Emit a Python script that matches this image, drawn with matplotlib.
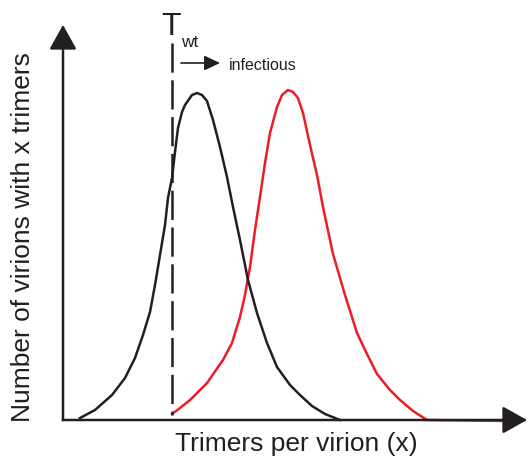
import matplotlib
matplotlib.use("Agg")
import matplotlib.pyplot as plt
from matplotlib.patches import FancyArrowPatch

plt.rcParams["font.family"] = ["Liberation Sans", "DejaVu Sans"]

# curve read-offs (x: trimers, arbitrary units; y: number of virions)
BLACK_X = [80, 95, 112, 125, 135, 143, 150, 155, 160, 165, 168, 172, 175, 178,
           182, 185, 192, 197, 202, 207, 213, 220, 227, 233, 240, 248, 257, 267,
           277, 290, 300, 312, 325, 340]
BLACK_Y = [2, 10, 25, 42, 62, 85, 108, 135, 165, 195, 222, 242, 268, 292,
           308, 315, 325, 327, 325, 319, 300, 273, 243, 213, 180, 140, 107, 77,
           53, 35, 25, 14, 6, 0]

RED_X = [172, 180, 190, 207, 223, 232, 240, 245, 250, 255, 260, 265, 270, 277,
         282, 288, 293, 298, 303, 310, 317, 323, 333, 345, 357, 367, 377, 390,
         400, 413, 427, 510]
RED_Y = [6, 12, 20, 37, 60, 77, 103, 125, 153, 190, 223, 257, 287, 313,
         325, 330, 328, 322, 307, 275, 245, 213, 166, 125, 87, 66, 46, 30,
         20, 9, 0, -1]

T_WT = 172          # threshold position
T_SPAN = [377, 5]   # dashed line extent

C_BLACK = "#231F20"
C_RED = "#ED1C24"
LW = 1.8

fig = plt.figure(figsize=(5.29, 4.63), dpi=100)
ax = fig.add_axes([63 / 529, 43 / 463, 464 / 529, 395 / 463])
ax.set_xlim(63, 527)
ax.set_ylim(0, 395)
ax.axis("off")

# curves
ax.plot(RED_X, RED_Y, color=C_RED, lw=LW, solid_joinstyle="round", zorder=2,
        clip_on=False)
ax.plot(BLACK_X, BLACK_Y, color=C_BLACK, lw=LW, solid_joinstyle="round", zorder=3,
        clip_on=False)

# threshold
ax.plot([T_WT, T_WT], T_SPAN, color=C_BLACK, lw=LW,
        ls=(0, (21 / LW, 5.5 / LW)), zorder=3, clip_on=False)
ax.text(T_WT - 1, 385, "T", fontsize=23, ha="center", va="baseline",
        color=C_BLACK)
ax.text(181, 373, "wt", fontsize=12.5, ha="left", va="baseline", color=C_BLACK)
ax.add_patch(FancyArrowPatch((181, 357), (220, 357),
                             arrowstyle="-|>,head_length=0.95,head_width=0.45",
                             mutation_scale=10, lw=1.2, color=C_BLACK,
                             shrinkA=0, shrinkB=0, clip_on=False))
ax.text(229, 350, "infectious", fontsize=11.5, ha="left", va="baseline",
        color=C_BLACK)

# axes with arrows
for tip in [(63, 395), (527, 0)]:
    ax.add_patch(FancyArrowPatch((63, 0), tip,
                                 arrowstyle="-|>,head_length=0.75,head_width=0.42",
                                 mutation_scale=20, lw=LW, color=C_BLACK,
                                 shrinkA=0, shrinkB=0, clip_on=False,
                                 zorder=4, capstyle="projecting"))

ax.text(296, -12, "Trimers per virion (x)", fontsize=19, ha="center", va="top",
        color=C_BLACK)
ax.text(23, 183, "Number of virions with x trimers", fontsize=19,
        rotation=90, ha="center", va="center", color=C_BLACK)

fig.savefig("out.png", dpi=100)
